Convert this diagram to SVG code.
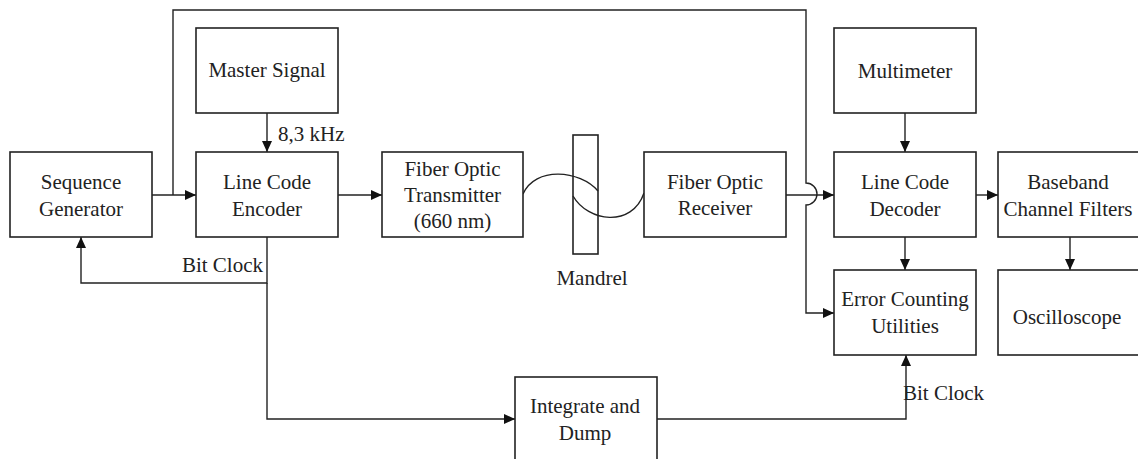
<svg xmlns="http://www.w3.org/2000/svg" width="1138" height="459" viewBox="0 0 1138 459">
<defs>
<marker id="arr" viewBox="0 0 11 10" refX="11" refY="5" markerWidth="11" markerHeight="10" orient="auto" markerUnits="userSpaceOnUse"><path d="M0,0 L11,5 L0,10 z" fill="#111"/></marker>
<style>
.box{fill:#fff;stroke:#222;stroke-width:1.6}
.ln{fill:none;stroke:#222;stroke-width:1.4}
text{font-family:'Liberation Serif','DejaVu Serif',serif;font-size:21px;fill:#222}
.c{text-anchor:middle}
</style>
</defs>
<rect width="1138" height="459" fill="#fff"/>
<g id="connectors">
<path class="ln" d="M152,195 L196,195" marker-end="url(#arr)"/>
<path class="ln" d="M173,195 L173,10 L806,10 L806,183 A11,11 0 0 1 806,205 L806,313 L834,313" marker-end="url(#arr)"/>
<path class="ln" d="M267,113 L267,152" marker-end="url(#arr)"/>
<path class="ln" d="M338,195 L382,195" marker-end="url(#arr)"/>
<path class="ln" d="M267,237 L267,283 L81,283 L81,237" marker-end="url(#arr)"/>
<path class="ln" d="M267,283 L267,419 L515,419" marker-end="url(#arr)"/>
<path class="ln" d="M657,419 L906,419 L906,355" marker-end="url(#arr)"/>
<path class="ln" d="M523,194 C535,166 580,170 598,191"/>
<path class="ln" d="M573,196 C588,222 632,228 644,193"/>
<path class="ln" d="M786,195 L834,195" marker-end="url(#arr)"/>
<path class="ln" d="M905,113 L905,152" marker-end="url(#arr)"/>
<path class="ln" d="M905,237 L905,270" marker-end="url(#arr)"/>
<path class="ln" d="M976,195 L998,195" marker-end="url(#arr)"/>
<path class="ln" d="M1070,237 L1070,270" marker-end="url(#arr)"/>
</g>
<g id="labels">
<text x="278" y="141">8,3 kHz</text>
<text x="263" y="272" text-anchor="end">Bit Clock</text>
<text x="903" y="400">Bit Clock</text>
</g>
<g id="sequence-generator">
<rect class="box" x="10" y="152" width="142" height="85"/>
<text class="c" x="81" y="189">Sequence</text>
<text class="c" x="81" y="216">Generator</text>
</g>
<g id="master-signal">
<rect class="box" x="196" y="28" width="142" height="85"/>
<text class="c" x="267" y="77">Master Signal</text>
</g>
<g id="line-code-encoder">
<rect class="box" x="196" y="152" width="142" height="85"/>
<text class="c" x="267" y="189">Line Code</text>
<text class="c" x="267" y="216">Encoder</text>
</g>
<g id="fiber-optic-transmitter">
<rect class="box" x="382" y="152" width="141" height="85"/>
<text class="c" x="452.5" y="176">Fiber Optic</text>
<text class="c" x="452.5" y="202">Transmitter</text>
<text class="c" x="452.5" y="228">(660 nm)</text>
</g>
<g id="mandrel">
<rect x="573" y="135" width="25" height="119" fill="none" stroke="#222" stroke-width="1.6"/>
<text class="c" x="592" y="285">Mandrel</text>
</g>
<g id="fiber-optic-receiver">
<rect class="box" x="644" y="152" width="142" height="85"/>
<text class="c" x="715" y="189">Fiber Optic</text>
<text class="c" x="715" y="215">Receiver</text>
</g>
<g id="multimeter">
<rect class="box" x="834" y="28" width="142" height="85"/>
<text class="c" x="905" y="78">Multimeter</text>
</g>
<g id="line-code-decoder">
<rect class="box" x="834" y="152" width="142" height="85"/>
<text class="c" x="905" y="189">Line Code</text>
<text class="c" x="905" y="216">Decoder</text>
</g>
<g id="baseband-channel-filters">
<rect class="box" x="998" y="152" width="142" height="85"/>
<text class="c" x="1068" y="189">Baseband</text>
<text class="c" x="1068" y="216">Channel Filters</text>
</g>
<g id="error-counting-utilities">
<rect class="box" x="834" y="270" width="142" height="85"/>
<text class="c" x="905" y="306">Error Counting</text>
<text class="c" x="905" y="333">Utilities</text>
</g>
<g id="oscilloscope">
<rect class="box" x="998" y="270" width="142" height="85"/>
<text class="c" x="1067" y="324">Oscilloscope</text>
</g>
<g id="integrate-and-dump">
<rect class="box" x="515" y="377" width="142" height="86"/>
<text class="c" x="585" y="413">Integrate and</text>
<text class="c" x="585" y="440">Dump</text>
</g>
</svg>
